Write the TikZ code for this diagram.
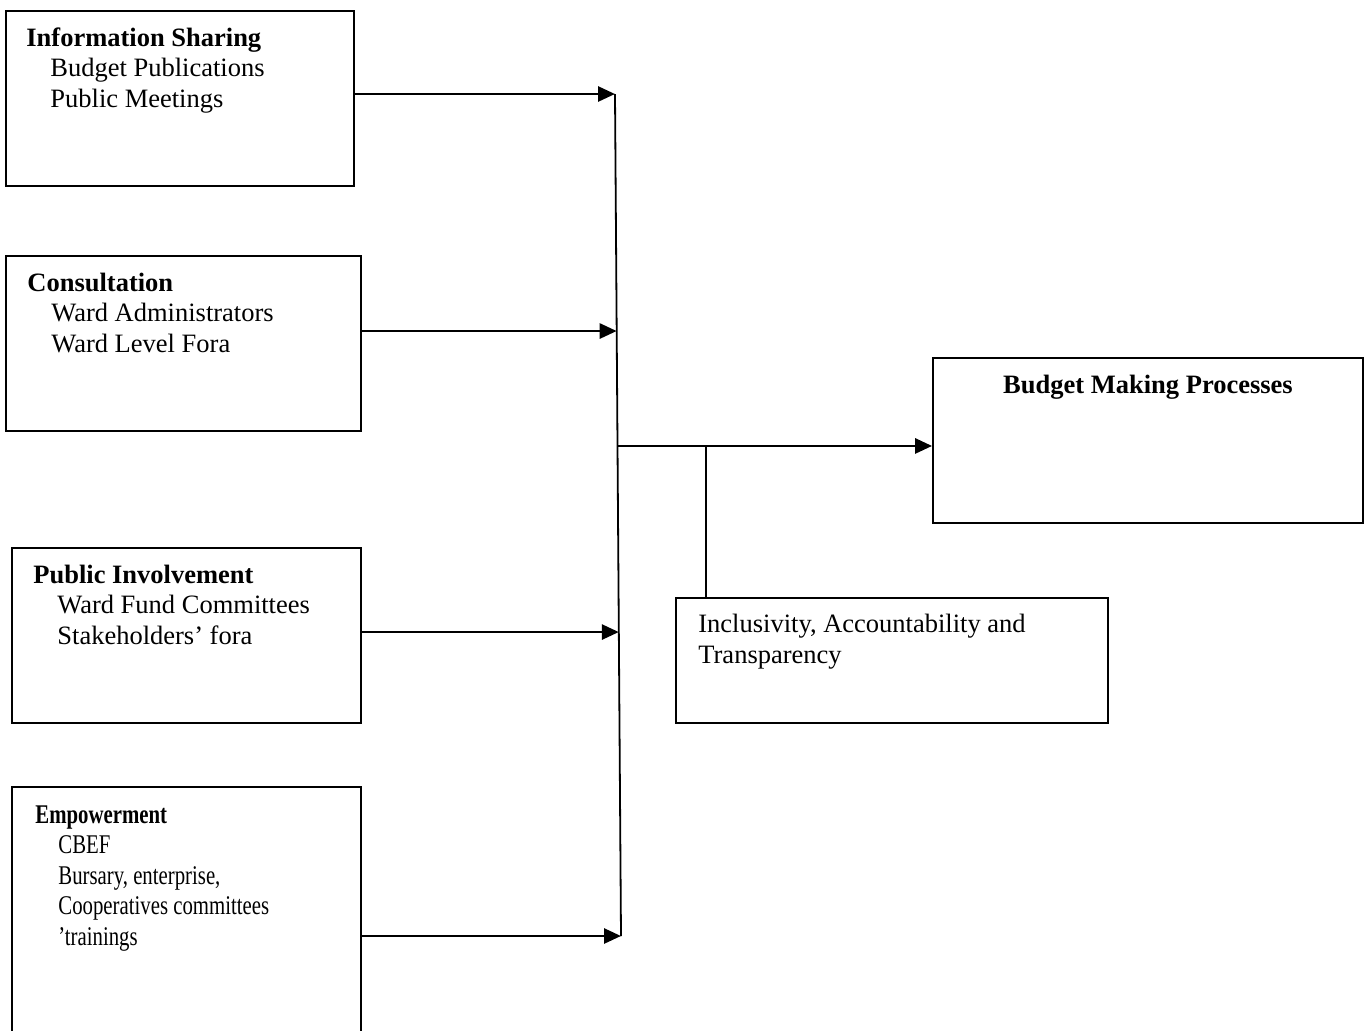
\documentclass[tikz,border=0pt]{standalone}
\usepackage{fontspec}
\setmainfont{Liberation Serif}
\newfontfamily\narrowfont[FakeStretch=0.77]{Liberation Serif}
\usetikzlibrary{arrows.meta}
\usetikzlibrary{calc}
\usetikzlibrary{fit}
\tikzstyle{box}=[draw, line width=0.9pt, inner sep=0pt]
\tikzstyle{txt}=[align=left, inner sep=0pt, anchor=base west, font=\fontsize{13.25}{15.2}\selectfont]
\tikzstyle{link}=[line width=1.4pt, -{Triangle[length=8.5pt,width=7.5pt]}]

\begin{document}
\begin{tikzpicture}[x=0.5pt, y=-0.5pt]
		\useasboundingbox (0,0) rectangle (1367,1030);
		\clip (0,0) rectangle (1367,1030);
		% boxes
		\node[box, fit={(6,11) (354,186)}] (info) {};
		\node[box, fit={(6,256) (361,431)}] (consult) {};
		\node[box, fit={(12,548) (361,723)}] (involve) {};
		\node[box, fit={(12,787) (361,1045)}] (empower) {};
		\node[box, fit={(933,358) (1363,523)}] (budget) {};
		\node[box, fit={(676,598) (1108,723)}] (inclus) {};
		% texts (anchored on the last line)
		\node[txt] (infotxt) at (26,107) {\textbf{Information Sharing}\\\hspace*{12pt}Budget Publications\\\hspace*{12pt}Public Meetings};
		\node[txt] (consulttxt) at (27,352) {\textbf{Consultation}\\\hspace*{12pt}Ward Administrators\\\hspace*{12pt}Ward Level Fora};
		\node[txt] (involvetxt) at (33,644) {\textbf{Public Involvement}\\\hspace*{12pt}Ward Fund Committees\\\hspace*{12pt}Stakeholders’ fora};
		\node[txt, font=\fontsize{13.5}{15.2}\narrowfont] (empowertxt) at (35,945) {\textbf{Empowerment}\\\hspace*{11.5pt}CBEF\\\hspace*{11.5pt}Bursary, enterprise,\\\hspace*{11.5pt}Cooperatives committees\\\hspace*{11.5pt}’trainings};
		\node[txt, anchor=base] (budgettxt) at (1148,393) {\textbf{Budget Making Processes}};
		\node[txt] (inclustxt) at (698,663) {Inclusivity, Accountability and\\Transparency};
		% connectors
		\coordinate (top) at (615,94);
		\coordinate (bot) at (621,936);
		\coordinate (c2) at ($(top)!0.2815!(bot)$);
		\coordinate (c3) at ($(top)!0.639!(bot)$);
		\coordinate (jn) at ($(top)!0.418!(bot)$);
		\coordinate (tap) at (706,446);
		\draw[line width=0.9pt] (top) -- (bot);
		\draw[link] (info.east |- top) -- (top);
		\draw[link] (consult.east |- c2) -- (c2);
		\draw[link] (involve.east |- c3) -- (c3);
		\draw[link] (empower.east |- bot) -- (bot);
		\draw[link] (jn) -- (jn -| budget.west);
		\draw[line width=1.4pt] (tap) -- (tap |- inclus.north);
\end{tikzpicture}
\end{document}
